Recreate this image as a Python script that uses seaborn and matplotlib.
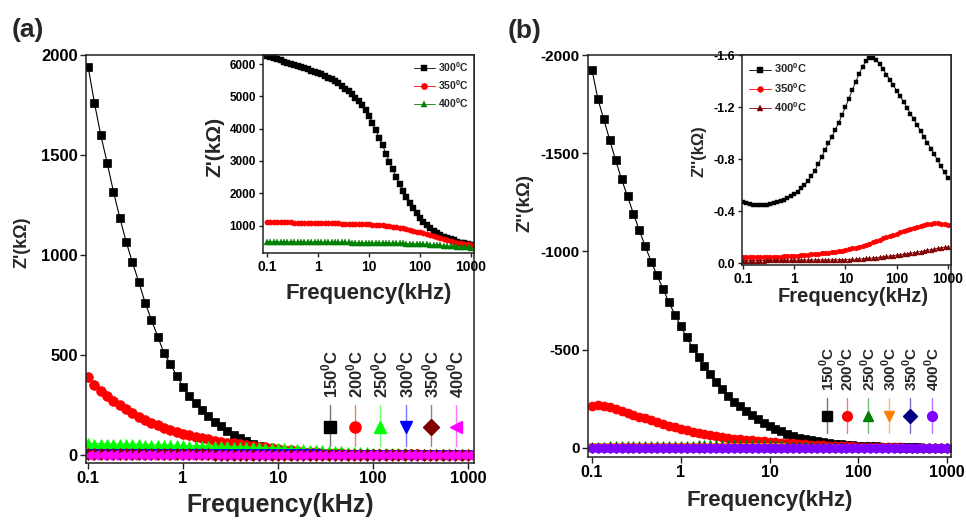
import numpy as np
import pandas as pd
import matplotlib
matplotlib.use("Agg")
import matplotlib.pyplot as plt
import seaborn as sns
from matplotlib.lines import Line2D
from matplotlib.ticker import NullLocator, FixedLocator, FixedFormatter

# ---------------- data ----------------
freq_khz = [0.1, 0.1166, 0.1359, 0.1585, 0.1848, 0.2154, 0.2512, 0.2929, 0.3415, 0.3981, 0.4642, 0.5412, 0.631, 0.7356, 0.8577,
            1, 1.166, 1.359, 1.585, 1.848, 2.154, 2.512, 2.929, 3.415, 3.981, 4.642, 5.412, 6.31, 7.356, 8.577,
            10, 11.66, 13.59, 15.85, 18.48, 21.54, 25.12, 29.29, 34.15, 39.81, 46.42, 54.12, 63.1, 73.56, 85.77,
            100, 116.6, 135.9, 158.5, 184.8, 215.4, 251.2, 292.9, 341.5, 398.1, 464.2, 541.2, 631, 735.6, 857.7,
            1000]

temps_main = ["150", "200", "250", "300", "350", "400"]
temps_inset = ["300", "350", "400"]

# (a) Z' main
a_150 = [1942, 1760, 1600, 1462, 1317, 1187, 1067, 963, 865, 762, 675, 592, 508, 455, 395,
         340, 296, 258, 224, 194, 167, 143, 121, 101, 84, 69, 56, 45, 36, 28,
         22, 17, 13, 11, 9, 8, 7, 6, 5, 5, 4, 4, 4, 3, 3,
         3, 3, 3, 2, 2, 2, 2, 2, 2, 2, 1, 1, 1, 1, 1, 1]
a_200 = [390, 352, 322, 296, 270, 248, 228, 208, 192, 176, 162, 148, 135, 125, 115,
         106, 98, 91, 84, 78, 72, 67, 62, 58, 54, 50, 46, 42, 38, 34,
         30, 27, 23, 20, 17, 15, 13, 11, 10, 9, 8, 7, 6, 6, 5,
         5, 4, 4, 4, 3, 3, 3, 3, 2, 2, 2, 2, 2, 2, 1, 1]
a_250 = [58, 57, 57, 56, 55, 55, 54, 53, 53, 52, 51, 51, 50, 49, 49,
         48, 47, 47, 46, 45, 45, 44, 43, 42, 41, 40, 39, 38, 37, 36,
         35, 33, 32, 30, 29, 27, 25, 24, 22, 20, 19, 17, 16, 14, 13,
         12, 11, 10, 9, 8, 8, 7, 6, 6, 5, 5, 4, 4, 4, 3, 3]
a_300 = [6, 6, 6, 6, 6, 6, 6, 6, 6, 6, 6, 6, 6, 6, 6,
         6, 6, 5, 5, 5, 5, 5, 5, 5, 5, 5, 4, 4, 4, 4,
         4, 4, 3, 3, 3, 3, 3, 2, 2, 2, 2, 2, 2, 2, 1,
         1, 1, 1, 1, 1, 1, 1, 1, 1, 1, 1, 0, 0, 0, 0, 0]
a_350 = [3, 3, 3, 3, 3, 3, 3, 3, 3, 3, 3, 3, 3, 3, 3,
         3, 3, 3, 3, 3, 2, 2, 2, 2, 2, 2, 2, 2, 2, 2,
         2, 2, 2, 2, 2, 2, 1, 1, 1, 1, 1, 1, 1, 1, 1,
         1, 1, 1, 1, 1, 1, 1, 0, 0, 0, 0, 0, 0, 0, 0, 0]
a_400 = [1, 1, 1, 1, 1, 1, 1, 1, 1, 1, 1, 1, 1, 1, 1,
         1, 1, 1, 1, 1, 1, 1, 1, 1, 1, 1, 1, 1, 1, 1,
         1, 1, 1, 1, 1, 0.5, 0.5, 0.5, 0.5, 0.5, 0.5, 0.5, 0.5, 0.5, 0.5,
         0.5, 0.5, 0.5, 0.5, 0.5, 0.5, 0.5, 0.5, 0.5, 0.5, 0.5, 0.5, 0.5, 0.5, 0.5, 0.5]

# (a) inset Z'
ia_300 = [6250, 6220, 6190, 6150, 6110, 6070, 6030, 5990, 5960, 5930, 5900, 5870, 5840, 5800, 5765,
          5725, 5680, 5630, 5580, 5530, 5460, 5400, 5320, 5240, 5150, 5060, 4960, 4850, 4720, 4590,
          4400, 4170, 3950, 3720, 3480, 3230, 2980, 2740, 2500, 2280, 2070, 1880, 1700, 1530, 1380,
          1240, 1120, 1010, 920, 840, 770, 710, 660, 615, 575, 540, 505, 475, 450, 425, 405]
ia_350 = [1110, 1108, 1106, 1104, 1102, 1100, 1098, 1096, 1094, 1092, 1090, 1088, 1086, 1084, 1082,
          1080, 1078, 1076, 1073, 1070, 1067, 1064, 1061, 1058, 1055, 1052, 1049, 1046, 1042, 1038,
          1034, 1028, 1021, 1013, 1004, 994, 982, 968, 952, 934, 914, 892, 868, 842, 815,
          787, 758, 728, 697, 666, 635, 604, 574, 545, 518, 493, 470, 450, 432, 416, 402]
ia_400 = [500, 499, 498, 497, 496, 495, 494, 493, 492, 491, 490, 489, 488, 487, 486,
          485, 484, 483, 482, 481, 480, 479, 478, 477, 476, 475, 474, 473, 472, 471,
          470, 468, 466, 464, 462, 460, 458, 455, 452, 449, 446, 442, 438, 434, 430,
          425, 420, 414, 408, 401, 394, 386, 378, 370, 362, 354, 346, 338, 330, 322, 315]

# (b) Z'' main
b_150 = [-1923, -1775, -1672, -1566, -1464, -1367, -1281, -1192, -1107, -1026, -949, -878, -810, -741, -679,
         -619, -563, -509, -461, -415, -374, -336, -300, -266, -236, -212, -189, -167, -147, -129,
         -112, -97, -84, -72, -62, -53, -46, -40, -35, -30, -26, -22, -19, -16, -14,
         -12, -10, -9, -8, -7, -6, -5, -4, -4, -3, -3, -2, -2, -2, -1, -1]
b_200 = [-214, -219, -214, -206, -197, -187, -177, -167, -158, -150, -140, -131, -122, -113, -105,
         -97, -90, -83, -77, -71, -66, -61, -56, -51, -47, -44, -41, -38, -35, -33,
         -31, -29, -27, -25, -23, -21, -19, -17, -15, -14, -12, -11, -10, -9, -8,
         -7, -6, -5, -5, -4, -4, -3, -3, -2, -2, -2, -2, -1, -1, -1, -1]
b_250 = [-12, -12, -12, -13, -13, -13, -14, -14, -14, -15, -15, -15, -16, -16, -16,
         -17, -17, -17, -18, -18, -18, -19, -19, -19, -19, -20, -20, -20, -20, -19,
         -19, -18, -18, -17, -16, -15, -14, -13, -12, -11, -10, -9, -8, -7, -6,
         -5, -5, -4, -4, -3, -3, -3, -2, -2, -2, -2, -1, -1, -1, -1, -1]
b_300 = [-3, -3, -3, -3, -3, -3, -3, -3, -3, -3, -3, -3, -3, -3, -3,
         -3, -3, -3, -3, -3, -3, -3, -3, -3, -3, -3, -3, -3, -3, -3,
         -3, -3, -3, -2, -2, -2, -2, -2, -2, -2, -2, -2, -2, -2, -2,
         -2, -2, -1, -1, -1, -1, -1, -1, -1, -1, -1, -1, -1, -1, -1, -1]
b_350 = [-1, -1, -1, -1, -1, -1, -1, -1, -1, -1, -1, -1, -1, -1, -1,
         -1, -1, -1, -1, -1, -1, -1, -1, -1, -1, -1, -1, -1, -1, -1,
         -1, -1, -1, -1, -1, -1, -1, -1, -1, -1, -1, -1, -1, -1, -1,
         -1, -1, -1, -1, -1, -1, -1, -1, -1, -1, -1, -1, -1, -1, -1, -1]
b_400 = [-0.5, -0.5, -0.5, -0.5, -0.5, -0.5, -0.5, -0.5, -0.5, -0.5, -0.5, -0.5, -0.5, -0.5, -0.5,
         -0.5, -0.5, -0.5, -0.5, -0.5, -0.5, -0.5, -0.5, -0.5, -0.5, -0.5, -0.5, -0.5, -0.5, -0.5,
         -0.5, -0.5, -0.5, -0.5, -0.5, -0.5, -0.5, -0.5, -0.5, -0.5, -0.5, -0.5, -0.5, -0.5, -0.5,
         -0.5, -0.5, -0.5, -0.5, -0.5, -0.5, -0.5, -0.5, -0.5, -0.5, -0.5, -0.5, -0.5, -0.5, -0.5, -0.5]

# (b) inset Z''
ib_300 = [-0.47, -0.462, -0.455, -0.45, -0.447, -0.446, -0.446, -0.448, -0.452, -0.458, -0.466, -0.476, -0.488, -0.502, -0.515,
          -0.532, -0.55, -0.575, -0.6, -0.63, -0.668, -0.71, -0.76, -0.815, -0.87, -0.92, -0.972, -1.025, -1.078, -1.14,
          -1.2, -1.265, -1.33, -1.395, -1.455, -1.51, -1.553, -1.578, -1.58, -1.56, -1.53, -1.49, -1.45, -1.408, -1.366,
          -1.325, -1.283, -1.24, -1.196, -1.15, -1.105, -1.06, -1.015, -0.97, -0.925, -0.88, -0.835, -0.79, -0.743, -0.697, -0.652]
ib_350 = [-0.045, -0.045, -0.045, -0.045, -0.045, -0.046, -0.046, -0.047, -0.047, -0.048, -0.049, -0.05, -0.051, -0.052, -0.054,
          -0.056, -0.057, -0.059, -0.061, -0.063, -0.066, -0.069, -0.072, -0.075, -0.078, -0.081, -0.084, -0.088, -0.092, -0.096,
          -0.1, -0.106, -0.112, -0.118, -0.125, -0.132, -0.14, -0.15, -0.16, -0.17, -0.18, -0.19, -0.199, -0.208, -0.217,
          -0.226, -0.235, -0.244, -0.253, -0.262, -0.271, -0.28, -0.287, -0.294, -0.299, -0.303, -0.305, -0.305, -0.303, -0.299, -0.293]
ib_400 = [-0.018, -0.018, -0.018, -0.019, -0.019, -0.019, -0.019, -0.02, -0.02, -0.02, -0.02, -0.021, -0.021, -0.021, -0.022,
          -0.022, -0.022, -0.022, -0.023, -0.023, -0.023, -0.023, -0.024, -0.024, -0.024, -0.024, -0.025, -0.025, -0.025, -0.025,
          -0.026, -0.027, -0.028, -0.029, -0.031, -0.033, -0.035, -0.037, -0.039, -0.042, -0.045, -0.048, -0.051, -0.054, -0.057,
          -0.06, -0.064, -0.068, -0.072, -0.076, -0.08, -0.084, -0.088, -0.093, -0.098, -0.103, -0.108, -0.113, -0.117, -0.121, -0.125]

xtick_vals = [0.1, 1, 10, 100, 1000]
xtick_labels = ["0.1", "1", "10", "100", "1000"]

# ---------------- style ----------------
sns.set_style("ticks")
plt.rcParams["font.family"] = ["Liberation Sans", "DejaVu Sans"]
plt.rcParams["font.weight"] = "bold"
plt.rcParams["axes.labelweight"] = "bold"
plt.rcParams["axes.unicode_minus"] = False
plt.rcParams["mathtext.fontset"] = "custom"
plt.rcParams["mathtext.rm"] = "Liberation Sans:bold"
plt.rcParams["mathtext.bf"] = "Liberation Sans:bold"
plt.rcParams["axes.edgecolor"] = "#222222"
plt.rcParams["xtick.color"] = "#222222"
plt.rcParams["ytick.color"] = "#222222"
plt.rcParams["xtick.labelcolor"] = "black"
plt.rcParams["ytick.labelcolor"] = "black"


def deg(t):
    return t + r"$^{\mathbf{0}}$C"


def series(ax, y, color, marker, ms, lw=0.8, label=None, mew=0.5):
    df = pd.DataFrame({"f": freq_khz, "z": y})
    sns.lineplot(data=df, x="f", y="z", ax=ax, color=color, marker=marker,
                 markersize=ms, markeredgecolor=color, markeredgewidth=mew,
                 linewidth=lw, label=label, legend=False, estimator=None, sort=False)


def style_axes(ax, tick_fs_x, tick_fs_y, length=4):
    ax.set_xscale("log")
    ax.xaxis.set_major_locator(FixedLocator(xtick_vals))
    ax.xaxis.set_major_formatter(FixedFormatter(xtick_labels))
    ax.xaxis.set_minor_locator(NullLocator())
    ax.tick_params(axis="x", direction="out", length=length, width=1, labelsize=tick_fs_x, pad=2)
    ax.tick_params(axis="y", direction="out", length=length, width=1, labelsize=tick_fs_y, pad=2)
    for lab in ax.get_xticklabels() + ax.get_yticklabels():
        lab.set_fontweight("bold")
    for s in ax.spines.values():
        s.set_visible(True)
        s.set_linewidth(1.1)


def vertical_legend(ax, entries, xs, y_mark, y_l0, y_l1, y_text, fs, ms):
    for (lab, c, m), x in zip(entries, xs):
        ax.add_line(Line2D([x, x], [y_l0, y_l1], transform=ax.transAxes, color=c,
                           lw=1.0, alpha=0.55, clip_on=False, zorder=5))
        ax.add_line(Line2D([x], [y_mark], transform=ax.transAxes, marker=m, ms=ms,
                           color=c, mec=c, ls="none", clip_on=False, zorder=6))
        ax.text(x, y_text, lab, rotation=90, ha="center", va="bottom",
                transform=ax.transAxes, fontsize=fs, fontweight="bold", zorder=6)


W, H = 966, 523
fig = plt.figure(figsize=(W / 100, H / 100), dpi=100)


def box(l, r, t, b):
    return [l / W, 1 - b / H, (r - l) / W, (b - t) / H]


# ---------------- panel (a) ----------------
ax1 = fig.add_axes(box(86, 474, 55, 463))
ax1.set_xscale("log")
cols_a = ["#000000", "#FF0000", "#00FF00", "#0000FF", "#800000", "#FF00FF"]
marks_a = ["s", "o", "^", "v", "D", "<"]
sizes_a = [6, 7, 7, 7, 6, 7]
for y, c, m, s in zip([a_150, a_200, a_250, a_300, a_350, a_400], cols_a, marks_a, sizes_a):
    series(ax1, y, c, m, s)
style_axes(ax1, 12, 12)
ax1.set_xlim(0.095, 1157)
ax1.set_ylim(-40, 2000)
ax1.set_yticks([0, 500, 1000, 1500, 2000])
ax1.set_xlabel("Frequency(kHz)", fontsize=18, fontweight="bold")
ax1.set_ylabel("Z'(k\u03A9)", fontsize=13, fontweight="bold")
ax1.xaxis.set_label_coords(0.5, -0.103)
ax1.xaxis.label.set_va("center")
ax1.yaxis.set_label_coords(-0.165, 0.542)
ax1.yaxis.label.set_va("center")
vertical_legend(ax1, [(deg(t), c, m) for t, c, m in zip(temps_main, cols_a, marks_a)],
                [0.629, 0.693, 0.758, 0.825, 0.889, 0.954], 0.088, 0.042, 0.142, 0.16, 12, 8)

# inset (a)
ax1i = fig.add_axes(box(263, 474, 55, 253))
ax1i.set_xscale("log")
cols_ia = ["#000000", "#FF0000", "#008000"]
marks_ia = ["s", "o", "^"]
for y, c, m, t in zip([ia_300, ia_350, ia_400], cols_ia, marks_ia, temps_inset):
    series(ax1i, y, c, m, 3.8, lw=0.6, label=deg(t), mew=0.3)
style_axes(ax1i, 10, 8.5, length=3)
ax1i.set_xlim(0.0835, 1145)
ax1i.set_ylim(150, 6280)
ax1i.set_yticks([1000, 2000, 3000, 4000, 5000, 6000])
ax1i.set_xlabel("Frequency(kHz)", fontsize=16, fontweight="bold")
ax1i.set_ylabel("Z'(k\u03A9)", fontsize=15, fontweight="bold")
ax1i.xaxis.set_label_coords(0.502, -0.207)
ax1i.xaxis.label.set_va("center")
ax1i.yaxis.set_label_coords(-0.227, 0.535)
ax1i.yaxis.label.set_va("center")
leg = ax1i.legend(loc="upper right", fontsize=7.5, frameon=False, handlelength=2.0,
                  labelspacing=0.4, handletextpad=0.3, borderaxespad=0.1, markerscale=1.2)
for t in leg.get_texts():
    t.set_fontweight("bold")

# ---------------- panel (b) ----------------
ax2 = fig.add_axes(box(588, 951, 55, 457))
ax2.set_xscale("log")
cols_b = ["#000000", "#FF0000", "#008000", "#FF8000", "#000080", "#8000FF"]
marks_b = ["s", "o", "^", "v", "D", "o"]
sizes_b = [5.5, 6.5, 5.5, 5.5, 5, 6.5]
for y, c, m, s in zip([b_150, b_200, b_250, b_300, b_350, b_400], cols_b, marks_b, sizes_b):
    series(ax2, y, c, m, s)
style_axes(ax2, 11.5, 11)
ax2.set_xlim(0.0901, 1109)
ax2.set_ylim(46, -2000)
ax2.set_yticks([0, -500, -1000, -1500, -2000])
ax2.set_xlabel("Frequency(kHz)", fontsize=16, fontweight="bold")
ax2.set_ylabel("Z''(k\u03A9)", fontsize=13.5, fontweight="bold")
ax2.xaxis.set_label_coords(0.501, -0.107)
ax2.xaxis.label.set_va("center")
ax2.yaxis.set_label_coords(-0.174, 0.632)
ax2.yaxis.label.set_va("center")
vertical_legend(ax2, [(deg(t), c, m) for t, c, m in zip(temps_main, cols_b, marks_b)],
                [0.658, 0.713, 0.771, 0.829, 0.887, 0.948], 0.102, 0.060, 0.147, 0.163, 11, 7)

# inset (b)
ax2i = fig.add_axes(box(742, 951, 55, 265))
ax2i.set_xscale("log")
cols_ib = ["#000000", "#FF0000", "#800000"]
marks_ib = ["s", "o", "^"]
for y, c, m, t in zip([ib_300, ib_350, ib_400], cols_ib, marks_ib, temps_inset):
    series(ax2i, y, c, m, 3.5, lw=0.6, label=deg(t), mew=0.3)
style_axes(ax2i, 10, 9, length=3)
ax2i.set_xlim(0.0956, 1145)
ax2i.set_ylim(0.015, -1.6)
ax2i.set_yticks([0.0, -0.4, -0.8, -1.2, -1.6])
ax2i.set_yticklabels(["0.0", "-0.4", "-0.8", "-1.2", "-1.6"])
for lab in ax2i.get_yticklabels():
    lab.set_fontweight("bold")
ax2i.set_xlabel("Frequency(kHz)", fontsize=14.5, fontweight="bold")
ax2i.set_ylabel("Z''(k\u03A9)", fontsize=12, fontweight="bold")
ax2i.xaxis.set_label_coords(0.53, -0.15)
ax2i.xaxis.label.set_va("center")
ax2i.yaxis.set_label_coords(-0.206, 0.543)
ax2i.yaxis.label.set_va("center")
leg2 = ax2i.legend(loc="upper left", fontsize=8, frameon=False, handlelength=2.0,
                   labelspacing=0.5, handletextpad=0.3, borderaxespad=0.2, markerscale=1.2)
for t in leg2.get_texts():
    t.set_fontweight("bold")

# panel labels
fig.text(12 / W, 1 - 30 / H, "(a)", fontsize=19, fontweight="bold", va="center", ha="left")
fig.text(508 / W, 1 - 31 / H, "(b)", fontsize=19, fontweight="bold", va="center", ha="left")

fig.savefig("out.png", dpi=100)
